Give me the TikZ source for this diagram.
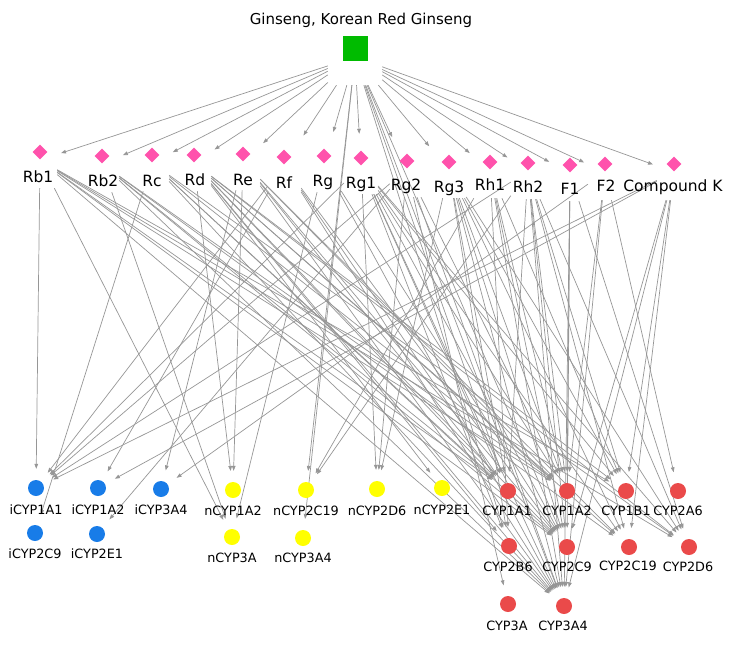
\documentclass[tikz,border=0pt]{standalone}
\usepackage{fontspec}
\setmainfont{DejaVu Sans}
\usetikzlibrary{shapes.geometric,arrows.meta,backgrounds}
\definecolor{gsgreen}{RGB}{0,187,0}
\definecolor{gspink}{RGB}{255,82,172}
\definecolor{gsblue}{RGB}{24,124,232}
\definecolor{gsyellow}{RGB}{255,255,0}
\definecolor{gsred}{RGB}{234,74,74}
\definecolor{edgegray}{RGB}{150,150,150}
\begin{document}
\begin{tikzpicture}[x=1pt,y=-1pt,
  herb/.style={rectangle,fill=gsgreen,minimum size=25pt,inner sep=0pt},
  herbbox/.style={rectangle,minimum width=54pt,minimum height=56pt,inner sep=0pt},
  gins/.style={diamond,fill=gspink,minimum width=15pt,minimum height=15pt,inner sep=0pt},
  srcbox/.style={rectangle,minimum width=34pt,minimum height=56pt,inner sep=0pt},
  enz/.style={circle,minimum size=16pt,inner sep=0pt},
  ienz/.style={enz,fill=gsblue},
  nenz/.style={enz,fill=gsyellow},
  renz/.style={enz,fill=gsred},
  ttl/.style={font=\fontsize{15}{18}\selectfont,inner sep=0pt,text height=0.73em,text depth=0pt},
  glabel/.style={font=\fontsize{15.5}{18}\selectfont,inner sep=0pt,text height=0.73em,text depth=0pt},
  elabel/.style={font=\fontsize{12.8}{15}\selectfont,inner sep=0pt,text height=0.73em,text depth=0pt},
  glink/.style={draw=edgegray,line width=0.7pt,-{Triangle[length=5pt,width=3.6pt]},shorten >=4pt},
  link/.style={draw=edgegray,line width=0.7pt,-{Triangle[length=5pt,width=3.6pt]},shorten >=11pt}
]
\useasboundingbox (0,0) rectangle (741,649);
\node[ttl] (title) at (361,21) {Ginseng, Korean Red Ginseng};
\node[herb] (G) at (355.5,48.5) {};
\node[herbbox] (Gs) at (355,57) {};
\foreach \id/\x/\y/\lx/\ly/\txt in {
  Rb1/40/152/38/179/Rb1, Rb2/102/156/103/183/Rb2, Rc/152/155/152/183/Rc,
  Rd/194/155/195/182/Rd, Re/243/154/243/182/Re, Rf/284/157/284/185/Rf,
  Rg/324/156/323/183/Rg, Rg1/361/158/361/185/Rg1, Rg2/407/161/406/187/Rg2,
  Rg3/449/162/449/189/Rg3, Rh1/490/162/490/187/Rh1, Rh2/528/163/528/189/Rh2,
  F1/570/165/570/191/F1, F2/605/164/606/188/F2, CK/674/164/673/188/Compound K}{
  \node[gins] (\id) at (\x,\y) {};
  \node[srcbox] (\id-s) at (\x,\y+8) {};
  \node[glabel] (\id-l) at (\lx,\ly) {\txt};
}
\foreach \id/\x/\y/\lx/\ly/\st in {
  iCYP1A1/36/488/36/511/ienz, iCYP1A2/98/488/98/511/ienz, iCYP3A4/161/489/161/511/ienz,
  iCYP2C9/35/533/35/555/ienz, iCYP2E1/97/534/97/555/ienz,
  nCYP1A2/233/490/233/512/nenz, nCYP3A/232/537/232/559/nenz,
  nCYP2C19/306/490/306/512/nenz, nCYP3A4/303/538/303/559/nenz,
  nCYP2D6/377/489/377/512/nenz, nCYP2E1/442/488/442/511/nenz,
  CYP1A1/508/491/507/512/renz, CYP1A2/567/491/567/512/renz,
  CYP1B1/626/491/626/512/renz, CYP2A6/678/491/678/512/renz,
  CYP2B6/509/546/508/568/renz, CYP2C9/567/547/567/568/renz,
  CYP2C19/629/547/628/567/renz, CYP2D6/689/547/688/568/renz,
  CYP3A/508/604/507/627/renz, CYP3A4/564/606/563/627/renz}{
  \node[\st] (\id) at (\x,\y) {};
  \node[elabel] (\id-l) at (\lx,\ly) {\id};
}
\begin{scope}[on background layer]
  \foreach \t in {Rb1,Rb2,Rc,Rd,Re,Rf,Rg,Rg1,Rg2,Rg3,Rh1,Rh2,F1,F2,CK}
    \draw[glink] (Gs) -- (\t-s);
  \foreach \t in {nCYP2C19,nCYP3A4,CYP1A1,CYP2B6,CYP2C9,CYP3A4}
    \draw[link] (Gs) -- (\t);
  \foreach \s/\tl in {
    Rb1/{iCYP1A1,nCYP3A,CYP1A1,CYP1A2,CYP1B1,CYP2C9,CYP2D6,CYP3A4},
    Rb2/{nCYP3A,CYP1A1,CYP1A2,CYP2C9,CYP2C19,CYP3A4},
    Rc/{iCYP2C9,CYP1A1,CYP1A2,CYP2C9,CYP2D6,CYP3A4},
    Rd/{nCYP1A2,nCYP2E1,CYP1A1,CYP1A2,CYP1B1,CYP2B6,CYP2C9,CYP2C19,CYP2D6,CYP3A4},
    Re/{nCYP1A2,iCYP3A4,CYP1A1,CYP1A2,CYP2C9,CYP2C19,CYP3A4},
    Rf/{iCYP1A1,iCYP1A2,CYP1A1,CYP2C9,CYP3A4},
    Rg/{nCYP3A,CYP2C9,CYP3A4},
    Rg1/{iCYP1A1,nCYP2D6,CYP1A1,CYP1A2,CYP1B1,CYP2B6,CYP2C9,CYP2C19,CYP2D6,CYP3A4},
    Rg2/{iCYP1A1,iCYP2E1,nCYP2D6,CYP3A,CYP1A2,CYP3A4},
    Rg3/{nCYP2D6,CYP1A1,CYP1A2,CYP1B1,CYP2B6,CYP2C9,CYP2C19,CYP2D6,CYP3A4},
    Rh1/{nCYP2C19,CYP1A2,CYP1B1,CYP2B6,CYP2C9,CYP3A4},
    Rh2/{iCYP1A1,nCYP2C19,CYP1A1,CYP1A2,CYP1B1,CYP2C9,CYP2C19,CYP2D6,CYP3A4},
    F1/{CYP1A2,CYP2C9,CYP2D6,CYP3A4},
    F2/{iCYP3A4,CYP2A6,CYP1A2,CYP3A4},
    CK/{iCYP1A1,iCYP1A2,CYP1B1,CYP2C9,CYP2C19,CYP3A4}}{
    \foreach \t in \tl {\draw[link] (\s-s) -- (\t);}
  }
\end{scope}
\end{tikzpicture}
\end{document}
